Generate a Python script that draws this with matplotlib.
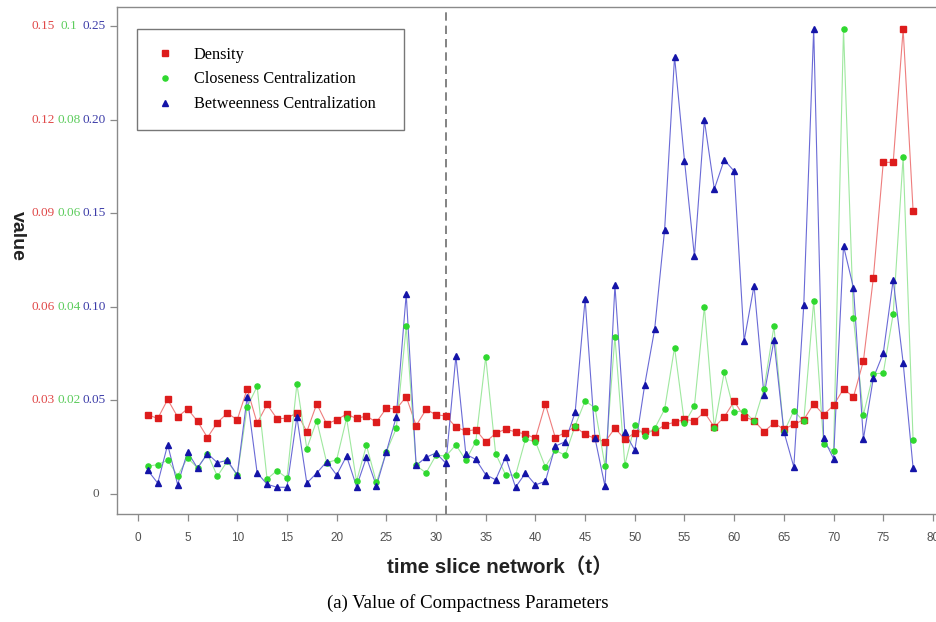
import matplotlib
matplotlib.use("Agg")
import matplotlib.pyplot as plt
from matplotlib.transforms import blended_transform_factory

# ---------------- data ----------------
t = list(range(1, 79))

density = [0.0254, 0.0242, 0.0303, 0.0247, 0.0273, 0.0233, 0.0181, 0.0229, 0.0259, 0.0238,
           0.0337, 0.0227, 0.0287, 0.0241, 0.0243, 0.0260, 0.0200, 0.0289, 0.0224, 0.0238,
           0.0256, 0.0242, 0.0250, 0.0230, 0.0275, 0.0272, 0.0312, 0.0219, 0.0271, 0.0254,
           0.0250, 0.0214, 0.0202, 0.0206, 0.0167, 0.0194, 0.0208, 0.0199, 0.0192, 0.0178,
           0.0288, 0.0181, 0.0197, 0.0216, 0.0191, 0.0178, 0.0167, 0.0211, 0.0175, 0.0196,
           0.0203, 0.0200, 0.0221, 0.0230, 0.0239, 0.0234, 0.0262, 0.0214, 0.0247, 0.0297,
           0.0248, 0.0235, 0.0200, 0.0227, 0.0208, 0.0223, 0.0238, 0.0289, 0.0254, 0.0284,
           0.0337, 0.0311, 0.0426, 0.0692, 0.1063, 0.1063, 0.1490, 0.0908]

closeness = [0.0059, 0.0063, 0.0072, 0.0039, 0.0077, 0.0056, 0.0086, 0.0038, 0.0070, 0.0040,
             0.0186, 0.0230, 0.0032, 0.0050, 0.0034, 0.0235, 0.0097, 0.0157, 0.0067, 0.0073,
             0.0162, 0.0027, 0.0104, 0.0025, 0.0090, 0.0140, 0.0358, 0.0061, 0.0045, 0.0083,
             0.0081, 0.0105, 0.0072, 0.0112, 0.0293, 0.0086, 0.0041, 0.0040, 0.0117, 0.0112,
             0.0058, 0.0093, 0.0083, 0.0146, 0.0199, 0.0184, 0.0060, 0.0336, 0.0062, 0.0148,
             0.0124, 0.0140, 0.0181, 0.0313, 0.0151, 0.0188, 0.0400, 0.0142, 0.0260, 0.0175,
             0.0178, 0.0155, 0.0225, 0.0358, 0.0132, 0.0178, 0.0155, 0.0412, 0.0106, 0.0091,
             0.0994, 0.0376, 0.0169, 0.0257, 0.0258, 0.0385, 0.0721, 0.0115]

betweenness = [0.0126, 0.0058, 0.0264, 0.0050, 0.0225, 0.0138, 0.0216, 0.0167, 0.0180, 0.0101,
               0.0520, 0.0113, 0.0052, 0.0036, 0.0036, 0.0412, 0.0058, 0.0112, 0.0173, 0.0101,
               0.0203, 0.0040, 0.0196, 0.0043, 0.0225, 0.0412, 0.1068, 0.0153, 0.0196, 0.0219,
               0.0164, 0.0737, 0.0212, 0.0185, 0.0103, 0.0076, 0.0198, 0.0036, 0.0112, 0.0049,
               0.0067, 0.0256, 0.0279, 0.0437, 0.1041, 0.0297, 0.0041, 0.1115, 0.0329, 0.0234,
               0.0584, 0.0881, 0.1411, 0.2337, 0.1781, 0.1269, 0.1996, 0.1629, 0.1785, 0.1724,
               0.0818, 0.1113, 0.0527, 0.0820, 0.0333, 0.0144, 0.1009, 0.2485, 0.0297, 0.0189,
               0.1325, 0.1102, 0.0293, 0.0620, 0.0752, 0.1145, 0.0701, 0.0140]

# tick labels of the three y-axis label columns
density_ticks = ["0.03", "0.06", "0.09", "0.12", "0.15"]
closeness_ticks = ["0.02", "0.04", "0.06", "0.08", "0.1"]
betweenness_ticks = ["0.05", "0.10", "0.15", "0.20", "0.25"]
density_max, closeness_max, betweenness_max = 0.15, 0.10, 0.25
split_t = 31
x_ticks = list(range(0, 81, 5))

series_names = ["Density", "Closeness Centralization", "Betweenness Centralization"]

# ---------------- style ----------------
red_m, red_l = "#dd1c1c", "#ee7d7d"
grn_m, grn_l = "#2fd82f", "#9fe89f"
blu_m, blu_l = "#1414a8", "#6a6ad6"

fig = plt.figure(figsize=(9.36, 6.22), dpi=100)
ax = fig.add_axes([0.125, 0.1736, 0.876, 0.8147])

d_scaled = [v * betweenness_max / density_max for v in density]
c_scaled = [v * betweenness_max / closeness_max for v in closeness]

ax.plot(t, d_scaled, color=red_l, lw=0.8, zorder=2)
ax.plot(t, c_scaled, color=grn_l, lw=0.8, zorder=2)
ax.plot(t, betweenness, color=blu_l, lw=0.8, zorder=2)
h1, = ax.plot(t, d_scaled, ls="none", marker="s", ms=4.3, color=red_m, mec=red_m, zorder=4)
h2, = ax.plot(t, c_scaled, ls="none", marker="o", ms=3.7, color=grn_m, mec=grn_m, zorder=4)
h3, = ax.plot(t, betweenness, ls="none", marker="^", ms=5.0, color=blu_m, mec=blu_m, zorder=4)

ax.axvline(split_t, color="#6e6e6e", lw=1.2, ls=(0, (5, 3)), zorder=1)

ax.set_xlim(-2.1, 80.4)
ax.set_ylim(-0.0107, 0.26)

spine_c = "#8a8a8a"
for s in ["left", "bottom", "top"]:
    ax.spines[s].set_color(spine_c)
    ax.spines[s].set_linewidth(1.0)
ax.spines["right"].set_visible(False)

ax.set_xticks(x_ticks)
ax.set_xticklabels([str(v) for v in x_ticks], fontsize=8.5, family="Liberation Sans", color="#505050")
ax.tick_params(axis="x", direction="out", length=5, width=0.9, color=spine_c, pad=8)

yt = [0, 0.05, 0.10, 0.15, 0.20, 0.25]
ax.set_yticks(yt)
ax.set_yticklabels([])
ax.tick_params(axis="y", direction="out", length=5, width=0.9, color=spine_c)

tr = blended_transform_factory(ax.transAxes, ax.transData)
fs_t = 9.5
ax.text(-0.0263, 0, "0", transform=tr, ha="center", va="center", fontsize=fs_t,
        family="Liberation Serif", color="#555555")
for i, yv in enumerate(yt[1:]):
    ax.text(-0.0763, yv, density_ticks[i], transform=tr, ha="right", va="center",
            fontsize=fs_t, family="Liberation Serif", color="#e04848")
    ax.text(-0.0588, yv, closeness_ticks[i], transform=tr, ha="center", va="center",
            fontsize=fs_t, family="Liberation Serif", color="#5ccc5c")
    ax.text(-0.0135, yv, betweenness_ticks[i], transform=tr, ha="right", va="center",
            fontsize=fs_t, family="Liberation Serif", color="#3c3ca8")

ax.set_ylabel("value", rotation=-90, fontsize=14, fontweight="bold",
              family="Liberation Sans", color="#222222", va="center", ha="center")
ax.yaxis.set_label_coords(-0.122, 0.548)

fig.text(0.534, 0.0884, "time slice network（t）", ha="center", va="center",
         fontsize=14.8, fontweight="bold", family=["Liberation Sans", "Noto Sans CJK SC"],
         color="#222222")
fig.text(0.5, 0.030, "(a) Value of Compactness Parameters", ha="center", va="center",
         fontsize=13.5, family="Liberation Serif", color="black")

leg = ax.legend([h1, h2, h3], series_names, loc="upper left",
                bbox_to_anchor=(0.0250, 0.9565, 0.325, 0.0), mode="expand",
                prop={"family": "Liberation Serif", "size": 11.7},
                frameon=True, fancybox=False, edgecolor="#555555",
                borderpad=1.07, labelspacing=0.54, handlelength=1.3, handletextpad=1.09,
                borderaxespad=0.0)
leg.get_frame().set_linewidth(1.0)

fig.savefig("out.png", dpi=100)
